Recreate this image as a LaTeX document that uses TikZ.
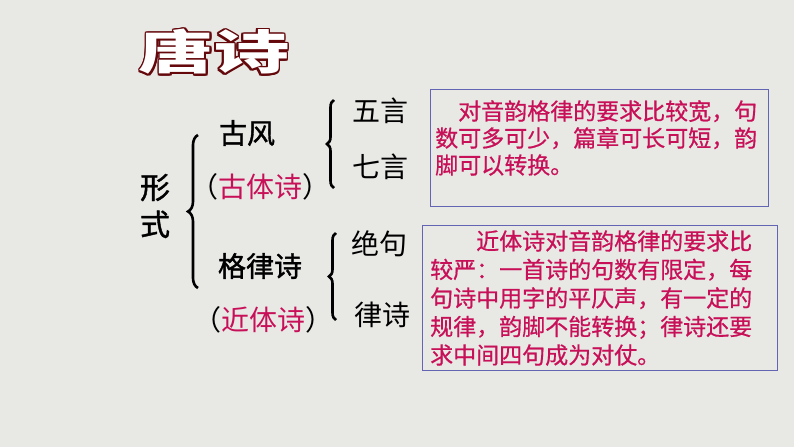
\documentclass[tikz,border=0pt]{standalone}
\usepackage{fontspec}
\newfontfamily\cjk{Noto Sans CJK SC}
\newfontfamily\cjkh[FakeBold=1.3]{Noto Sans CJK SC}
\newfontfamily\cjkt[FakeBold=0.6]{Noto Sans CJK SC}
\usetikzlibrary{decorations.pathreplacing}
\definecolor{bg}{RGB}{232,232,229}
\definecolor{crim}{RGB}{200,16,88}
\definecolor{framec}{RGB}{100,100,180}
\definecolor{titlec}{RGB}{100,8,12}
\begin{document}
\begin{tikzpicture}[x=1pt,y=-1pt,
  lbl/.style={font=\cjkh\fontsize{28}{28}\selectfont, inner sep=0pt},
  txt/.style={font=\cjkt\fontsize{23}{27}\selectfont, text=crim, inner sep=0pt, align=left, anchor=north west},
  boxc/.style={draw=framec, line width=1pt, inner sep=0pt, anchor=north west},
  br/.style={decorate, decoration={brace, amplitude=#1}, line width=2.6pt},
  ttl/.style={font=\cjk\bfseries\fontsize{47}{47}\selectfont, inner sep=0pt}
]
\fill[bg] (0,0) rectangle (794,447);
\useasboundingbox (0,0) rectangle (794,447);
% title
\foreach \a in {0,22.5,...,337.5}
  \node[ttl, text=titlec, shift={(\a:1.7pt)}] at (214,52) {\scalebox{1.6}[1]{唐诗}};
\node[ttl, text=white] (title) at (214,52) {\scalebox{1.6}[1]{唐诗}};
% left labels
\node[lbl, font=\cjkh\fontsize{30}{37}\selectfont, align=center] (xs) at (155,206) {形\\式};
\node[lbl] (gf) at (247,133) {古风};
\node[lbl, font=\cjk\fontsize{28}{28}\selectfont] (gt) at (260,187) {（\textcolor{crim}{古体诗}）};
\node[lbl] (gl) at (260,266) {格律诗};
\node[lbl, font=\cjk\fontsize{28}{28}\selectfont] (jt) at (263,320) {（\textcolor{crim}{近体诗}）};
\node[lbl, font=\cjk\fontsize{28}{28}\selectfont] (wy) at (380,111) {五言};
\node[lbl, font=\cjk\fontsize{28}{28}\selectfont] (qy) at (380,167) {七言};
\node[lbl, font=\cjk\fontsize{28}{28}\selectfont] (jj) at (379,244) {绝句};
\node[lbl, font=\cjk\fontsize{28}{28}\selectfont] (ls) at (382,315) {律诗};
% braces
\coordinate (b1s) at (198,288); \coordinate (b1e) at (198,135);
\coordinate (b2s) at (334,188); \coordinate (b2e) at (334,100);
\coordinate (b3s) at (336,320); \coordinate (b3e) at (336,233);
\draw[br=10pt] (b1s) -- (b1e);
\draw[br=7pt] (b2s) -- (b2e);
\draw[br=7pt] (b3s) -- (b3e);
% boxes
\node[boxc, minimum width=338pt, minimum height=117pt] (box1) at (430,89) {};
\node[txt] (t1) at (435,100) {\hspace*{1em}对音韵格律的要求比较宽，句\\数可多可少，篇章可长可短，韵\\脚可以转换。};
\node[boxc, minimum width=355pt, minimum height=145pt] (box2) at (422,225) {};
\node[txt, font=\cjkt\fontsize{23}{28.5}\selectfont] (t2) at (430,230) {\hspace*{2em}近体诗对音韵格律的要求比\\较严：一首诗的句数有限定，每\\句诗中用字的平仄声，有一定的\\规律，韵脚不能转换；律诗还要\\求中间四句成为对仗。};
\end{tikzpicture}
\end{document}
